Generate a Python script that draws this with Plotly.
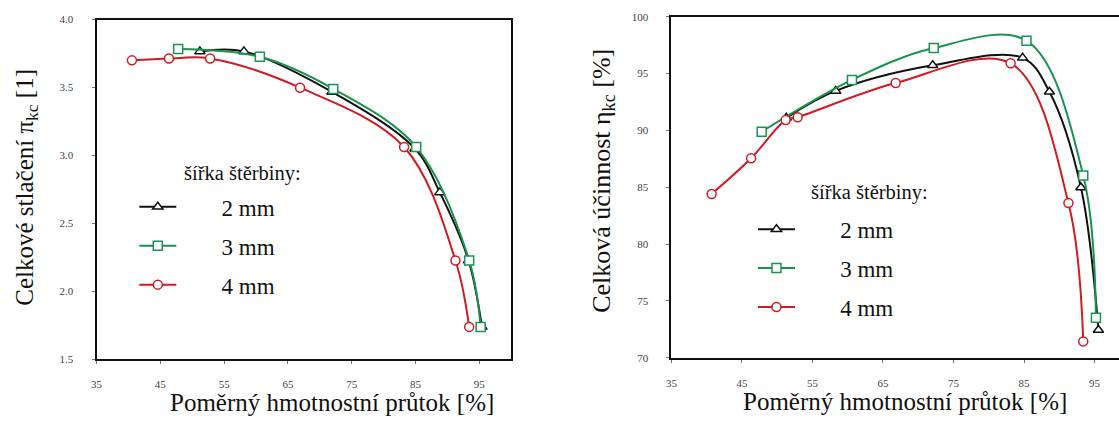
import plotly.graph_objects as go

# Mass flow [%] and total pressure ratio for the three gap widths
flow_p_2mm = [51.2, 58.1, 71.9, 84.9, 88.8, 93.3, 95.4]
ratio_2mm = [3.766, 3.766, 3.468, 3.050, 2.728, 2.227, 1.738]
flow_p_3mm = [47.8, 60.6, 72.1, 85.1, 93.4, 95.2]
ratio_3mm = [3.783, 3.726, 3.490, 3.062, 2.227, 1.738]
flow_p_4mm = [40.55, 46.35, 52.8, 66.9, 83.2, 91.25, 93.4]
ratio_4mm = [3.700, 3.714, 3.714, 3.499, 3.062, 2.227, 1.738]

# Mass flow [%] and total efficiency [%]
flow_e_2mm = [51.3, 58.3, 72.05, 84.8, 88.6, 93.07, 95.55]
eff_2mm = [91.1, 93.47, 95.72, 96.38, 93.39, 84.97, 72.43]
flow_e_3mm = [47.8, 60.6, 72.2, 85.35, 93.4, 95.2]
eff_3mm = [89.88, 94.44, 97.24, 97.89, 86.03, 73.5]
flow_e_4mm = [40.7, 46.3, 51.2, 52.9, 66.8, 83.1, 91.3, 93.4]
eff_4mm = [84.4, 87.54, 90.9, 91.16, 94.16, 95.9, 83.6, 71.43]

series_names = ["2 mm", "3 mm", "4 mm"]
x_ticks = [35, 45, 55, 65, 75, 85, 95]
ratio_ticks = [1.5, 2.0, 2.5, 3.0, 3.5, 4.0]
eff_ticks = [70, 75, 80, 85, 90, 95, 100]

colors = ["#111111", "#1a9350", "#d11a22"]
symbols = ["triangle-up", "square", "circle"]
SERIF = "'Liberation Serif', 'Times New Roman', 'DejaVu Serif', serif"
W, H = 1119, 432

fig = go.Figure()

left = [(flow_p_2mm, ratio_2mm), (flow_p_3mm, ratio_3mm), (flow_p_4mm, ratio_4mm)]
right = [(flow_e_2mm, eff_2mm), (flow_e_3mm, eff_3mm), (flow_e_4mm, eff_4mm)]

# legend labels sit well to the right of their line samples
pad = "\u00a0" * 7
for i, (xs, ys) in enumerate(left):
    fig.add_trace(go.Scatter(
        x=xs, y=ys, mode="lines+markers", name=pad + series_names[i],
        xaxis="x", yaxis="y", legend="legend", legendgroup="l%d" % i,
        line=dict(color=colors[i], width=2, shape="spline", smoothing=1.0),
        marker=dict(symbol=symbols[i], size=9, color="white",
                    line=dict(color=colors[i], width=1.5)),
    ))
for i, (xs, ys) in enumerate(right):
    fig.add_trace(go.Scatter(
        x=xs, y=ys, mode="lines+markers", name=pad + series_names[i],
        xaxis="x2", yaxis="y2", legend="legend2", legendgroup="r%d" % i,
        line=dict(color=colors[i], width=2, shape="spline", smoothing=1.0),
        marker=dict(symbol=symbols[i], size=9, color="white",
                    line=dict(color=colors[i], width=1.5)),
    ))

tickfont = dict(family=SERIF, size=11, color="#444444")
common_x = dict(tickvals=x_ticks, ticks="outside", ticklen=3, tickcolor="#777777",
                tickfont=tickfont, showline=True, linecolor="#111111", linewidth=2,
                showgrid=False, zeroline=False, ticklabelstandoff=11)
common_y = dict(ticks="outside", ticklen=3, tickcolor="#777777",
                tickfont=tickfont, showline=True, linecolor="#111111", linewidth=2,
                showgrid=False, zeroline=False, ticklabelstandoff=16)

legend_common = dict(
    font=dict(family=SERIF, size=23, color="#111111"),
    bgcolor="rgba(255,255,255,0)", borderwidth=0,
    xanchor="left", yanchor="top", itemwidth=37, tracegroupgap=6,
    itemclick=False, itemdoubleclick=False,
)

fig.update_layout(
    width=W, height=H,
    margin=dict(l=0, r=0, t=0, b=0),
    paper_bgcolor="white", plot_bgcolor="white",
    showlegend=True,
    xaxis=dict(domain=[91 / W, 508 / W], range=[35, 100], mirror=True, anchor="y", **common_x),
    yaxis=dict(domain=[1 - 363.3 / H, 1 - 14 / H], range=[1.5, 4.0], mirror=True,
               tickvals=ratio_ticks, tickformat=".1f", anchor="x", **common_y),
    xaxis2=dict(domain=[669 / W, 1.0], range=[35, 98.47], mirror=True, anchor="y2", **common_x),
    yaxis2=dict(domain=[1 - 361.7 / H, 1 - 11 / H], range=[70, 100], mirror=False,
                tickvals=eff_ticks, anchor="x2", **common_y),
    legend=dict(x=129 / W, y=1 - 184.5 / H, **legend_common),
    legend2=dict(x=751 / W, y=1 - 207.5 / H, **legend_common),
)

title_font = dict(family=SERIF, size=25, color="#111111")
annotations = [
    dict(text="Celkové stlačení π<sub>kc</sub> [1]", x=21 / W, y=1 - 186 / H, textangle=-90, size=25),
    dict(text="Celková účinnost η<sub>kc</sub> [%]", x=600 / W, y=1 - 180 / H, textangle=-90, size=26),
    dict(text="Poměrný hmotnostní průtok [%]", x=328 / W, y=1 - 408 / H, textangle=0, size=25),
    dict(text="Poměrný hmotnostní průtok [%]", x=904 / W, y=1 - 407 / H, textangle=0, size=25),
]
for a in annotations:
    fig.add_annotation(xref="paper", yref="paper", showarrow=False,
                       xanchor="center", yanchor="middle", text=a["text"],
                       x=a["x"], y=a["y"], textangle=a["textangle"],
                       font=dict(family=SERIF, size=a["size"], color="#111111"))

# Legend headings
for x, y in [(177 / W, 1 - 172 / H), (807 / W, 1 - 192 / H)]:
    fig.add_annotation(text="šířka štěrbiny:", xref="paper", yref="paper", x=x, y=y,
                       xanchor="left", yanchor="middle", showarrow=False,
                       font=dict(family=SERIF, size=20.5, color="#111111"))

fig.write_html("out.html")
